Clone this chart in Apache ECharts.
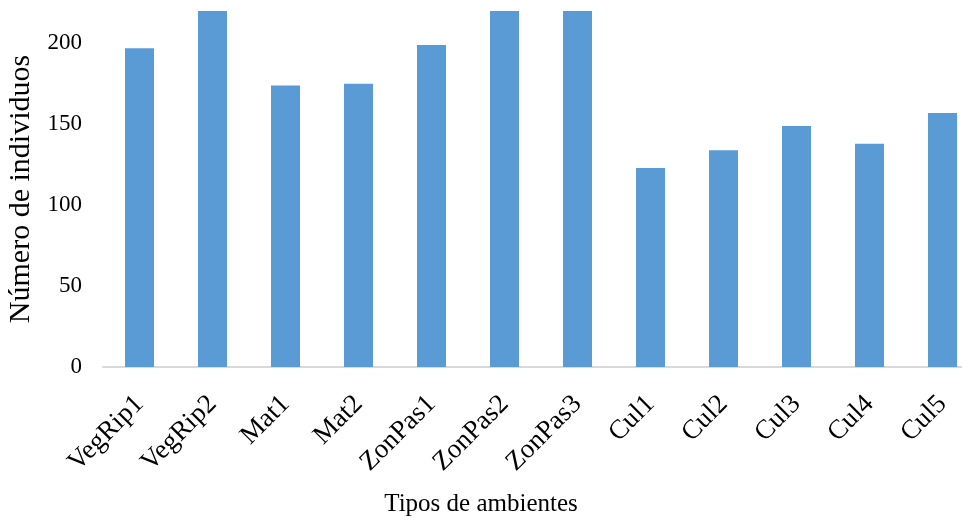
<!DOCTYPE html>
<html>
<head>
<meta charset="utf-8">
<script src="https://cdn.jsdelivr.net/npm/echarts@6/dist/echarts.min.js"></script>
<style>
html, body { margin: 0; padding: 0; background: #fff; }
#chart { width: 962px; height: 523px; }
</style>
</head>
<body>
<div id="chart"></div>
<script>
// ambientes y numero de individuos
var ambientes = ['VegRip1', 'VegRip2', 'Mat1', 'Mat2', 'ZonPas1', 'ZonPas2', 'ZonPas3', 'Cul1', 'Cul2', 'Cul3', 'Cul4', 'Cul5'];
// VegRip2, ZonPas2 and ZonPas3 run past the top of the axis in the picture
var individuos = [197, 240, 174, 175, 199, 240, 240, 123, 134, 149, 138, 157];
var yTicks = [0, 50, 100, 150, 200];

var font = '"Liberation Serif", "Times New Roman", serif';
var myChart = echarts.init(document.getElementById('chart'));

var option = {
    animation: false,
    title: {
        text: 'Tipos de ambientes',
        left: 'center',
        top: 487,
        textStyle: { fontFamily: font, fontSize: 25, fontWeight: 'normal', color: '#000' }
    },
    grid: {
        left: 103,
        top: 11,
        width: 876,
        height: 356,
        outerBoundsMode: 'none'
    },
    xAxis: {
        type: 'category',
        data: ambientes,
        axisLine: { lineStyle: { color: '#d9d9d9', width: 2 } },
        axisTick: { show: false },
        axisLabel: {
            rotate: 45,
            interval: 0,
            margin: 33,
            fontFamily: font,
            fontSize: 27,
            color: '#000'
        }
    },
    yAxis: {
        type: 'value',
        min: 0,
        max: 220,
        interval: 50,
        name: 'Número de individuos',
        nameLocation: 'middle',
        nameGap: 65,
        nameTextStyle: { fontFamily: font, fontSize: 30, color: '#000' },
        axisLine: { show: false },
        axisTick: { show: false },
        splitLine: { show: false },
        axisLabel: {
            margin: 21,
            fontFamily: font,
            fontSize: 23,
            color: '#000',
            formatter: function (v) { return yTicks.indexOf(v) >= 0 ? v : ''; }
        }
    },
    series: [{
        type: 'bar',
        data: individuos,
        barWidth: 29,
        clip: true,
        itemStyle: { color: '#5b9bd5' }
    }]
};

myChart.setOption(option);
</script>
</body>
</html>
